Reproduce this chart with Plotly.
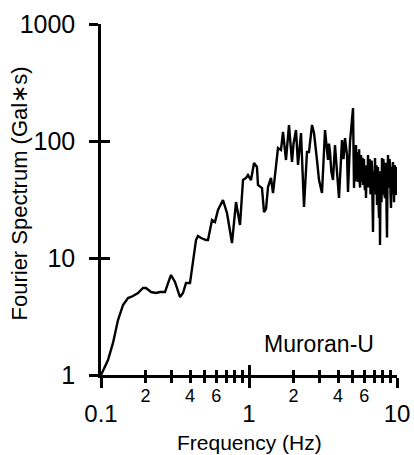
import plotly.graph_objects as go

# Frequency (Hz) and Fourier amplitude (Gal*s)
freq = [0.100, 0.1115, 0.1205, 0.1303, 0.1409, 0.1522, 0.1645, 0.1778, 0.1922, 0.2015,
        0.2177, 0.2353, 0.2506, 0.2707, 0.2838, 0.2973, 0.3162, 0.3419, 0.358, 0.3753,
        0.3994, 0.4185, 0.4385, 0.452, 0.4744, 0.5123, 0.5285, 0.5623, 0.589, 0.6173,
        0.6671, 0.7101, 0.7675, 0.8171, 0.8694, 0.911, 0.9543, 0.9845, 1.032, 1.081,
        1.132, 1.150, 1.224, 1.263, 1.303, 1.344, 1.408, 1.453, 1.522, 1.570,
        1.645, 1.697, 1.778, 1.863, 1.952, 2.00, 2.078, 2.144, 2.246, 2.30, 2.353, 2.465,
        2.543, 2.665, 2.749, 2.880, 2.972, 3.113, 3.263, 3.418, 3.47, 3.526, 3.60, 3.694,
        3.812, 3.932, 4.056, 4.250, 4.35, 4.453, 4.594, 4.666, 4.813, 5.044, 5.123,
        5.16, 5.20, 5.24, 5.284, 5.33, 5.37, 5.41, 5.451, 5.50, 5.55,
        5.59, 5.63, 5.67, 5.712, 5.76, 5.80, 5.85, 5.893, 5.94, 5.98,
        6.02, 6.07, 6.12, 6.173, 6.22, 6.27, 6.32, 6.369, 6.42, 6.47,
        6.52, 6.57, 6.62, 6.674, 6.73, 6.78, 6.83, 6.885, 6.94, 6.99,
        7.05, 7.103, 7.16, 7.21, 7.27, 7.328, 7.38, 7.44, 7.50, 7.56,
        7.62, 7.678, 7.74, 7.80, 7.86, 7.920, 7.97, 8.03, 8.09, 8.15,
        8.22, 8.298, 8.37, 8.45, 8.50, 8.56, 8.63, 8.695, 8.77, 8.85,
        8.91, 8.98, 9.04, 9.111, 9.18, 9.25, 9.32, 9.397, 9.47, 9.55,
        9.62, 9.70, 9.77, 9.845, 9.90, 9.95]
amp = [1.00, 1.34, 1.88, 2.95, 3.97, 4.55, 4.73, 5.02, 5.54, 5.54,
       5.12, 5.02, 5.12, 5.12, 6.11, 7.16, 6.24, 4.64, 5.02, 6.11,
       6.11, 9.06, 14.25, 15.42, 14.82, 14.25, 14.25, 21.1, 20.3, 25.7,
       31.3, 24.2, 13.43, 30.1, 19.15, 46.4, 48.3, 51.2, 46.4, 64.9,
       59.9, 42.1, 39.6, 24.7, 26.2, 40.4, 48.3, 35.9, 66.2, 87.1,
       83.8, 119.4, 68.8, 137, 66.2, 95, 124, 62.4, 117, 50, 27.3, 80.5,
       80.5, 137, 117, 68.8, 46.4, 35.9, 124, 68.8, 95, 80.5, 55, 46.4,
       92.4, 54.3, 32.6, 102, 70, 106, 75.9, 36.6, 98, 191, 39.6,
       65, 70, 45, 92.4, 55, 50, 80, 44.6, 60, 85,
       45, 40, 70, 75.9, 45, 48, 72, 42.1, 60, 70,
       45, 38, 62, 32.6, 50, 60, 40, 75.9, 50, 40,
       70, 65, 35, 36.6, 68, 60, 30, 16.7, 45, 55,
       38, 71.6, 45, 35, 62, 28.4, 50, 60, 30, 22,
       55, 12.9, 45, 50, 30, 71.6, 35, 40, 70, 60,
       35, 32.6, 65, 55, 25, 15, 50, 75.9, 45, 40,
       70, 62, 35, 26.8, 60, 55, 35, 66.2, 45, 30,
       62, 60, 40, 34.5, 60, 50]

x_major = [0.1, 1, 10]
x_major_text = ["0.1", "1", "10"]
x_minor = [0.2, 0.3, 0.4, 0.5, 0.6, 0.7, 0.8, 0.9, 2, 3, 4, 5, 6, 7, 8, 9]
x_minor_text = ["2", "", "4", "", "6", "", "", "", "2", "", "4", "", "6", "", "", ""]
y_major = [1, 10, 100, 1000]
y_major_text = ["1", "10", "100", "1000"]

FONT = "Liberation Sans, Arial, sans-serif"

fig = go.Figure()
fig.add_trace(go.Scatter(x=freq, y=amp, mode="lines",
                         line=dict(color="black", width=2.4), showlegend=False))

fig.update_layout(
    width=414, height=455,
    margin=dict(l=101, r=17, t=24, b=80, autoexpand=False),
    paper_bgcolor="white", plot_bgcolor="white",
    font=dict(family=FONT, color="black"),
    xaxis=dict(type="log", range=[-1, 1], showgrid=False, zeroline=False, automargin=False,
               showline=True, linecolor="black", linewidth=2.5,
               tickmode="array", tickvals=x_major, ticktext=x_major_text,
               ticks="outside", ticklen=10, tickwidth=2.5, tickcolor="black",
               tickfont=dict(size=24, family=FONT), ticklabelstandoff=5,
               minor=dict(tickmode="array", tickvals=x_minor, ticks="outside",
                          ticklen=5, tickwidth=2.5, tickcolor="black")),
    xaxis2=dict(type="log", range=[-1, 1], overlaying="x", anchor="y", side="bottom",
                showgrid=False, zeroline=False, showline=False, automargin=False,
                tickmode="array", tickvals=x_minor, ticktext=x_minor_text,
                ticks="inside", ticklen=5, tickwidth=2.5, tickcolor="black",
                tickfont=dict(size=18, family=FONT), ticklabelstandoff=8,
                minor=dict(tickmode="array", tickvals=x_major, ticks="inside",
                           ticklen=10, tickwidth=2.5, tickcolor="black")),
    yaxis=dict(type="log", range=[0, 3], showgrid=False, zeroline=False, automargin=False,
               showline=True, linecolor="black", linewidth=2.5,
               tickmode="array", tickvals=y_major, ticktext=y_major_text,
               ticks="outside", ticklen=9, tickwidth=2.5, tickcolor="black",
               tickfont=dict(size=25, family=FONT), ticklabelstandoff=9),
    yaxis2=dict(type="log", range=[0, 3], overlaying="y", anchor="x", side="left",
                showgrid=False, zeroline=False, showline=False, automargin=False,
                tickmode="array", tickvals=y_major, ticktext=["", "", "", ""],
                ticks="inside", ticklen=9, tickwidth=2.5, tickcolor="black"),
    annotations=[
        dict(text="Muroran-U", xref="paper", yref="paper", x=0.738, y=0.088,
             xanchor="center", yanchor="middle", showarrow=False,
             font=dict(size=23, family=FONT)),
        dict(text="Frequency (Hz)", xref="paper", yref="paper", x=0.5, y=-0.192,
             xanchor="center", yanchor="middle", showarrow=False,
             font=dict(size=21, family=FONT)),
        dict(text="Fourier Spectrum (Gal∗s)", xref="paper", yref="paper",
             x=-0.275, y=0.516, xanchor="center", yanchor="middle", textangle=-90,
             showarrow=False, font=dict(size=22, family=FONT)),
    ],
)
# invisible trace to activate the overlay axes
fig.add_trace(go.Scatter(x=[0.1], y=[1], xaxis="x2", yaxis="y2", mode="markers",
                         marker=dict(opacity=0), hoverinfo="skip", showlegend=False))

fig.write_html("out.html")
